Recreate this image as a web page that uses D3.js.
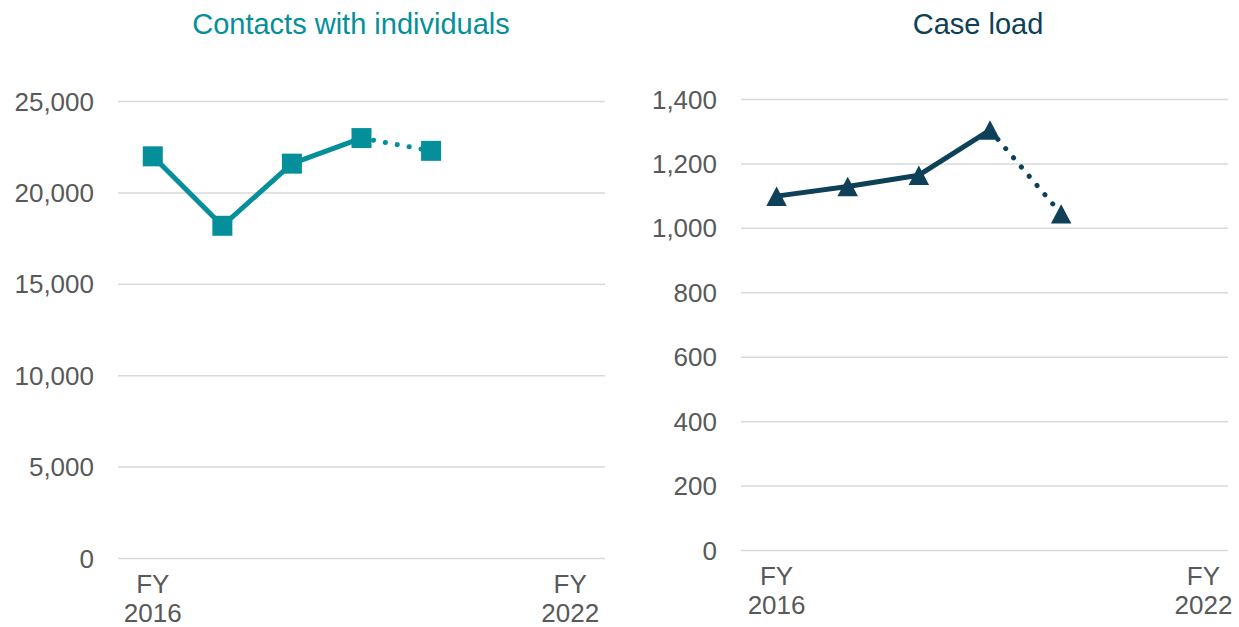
<!DOCTYPE html>
<html>
<head>
<meta charset="utf-8">
<script src="https://cdn.jsdelivr.net/npm/d3@7"></script>
<style>
  body { margin: 0; background: #fff; }
  text { font-family: "Liberation Sans", Arial, sans-serif; }
</style>
</head>
<body>
<svg id="chart" width="1239" height="627"></svg>
<script>
var years = ['2016', '2017', '2018', '2019', '2020', '2021', '2022'];
var shownYears = ['2016', '2022'];

var contacts = [22000, 18200, 21600, 23000, 22300];
var contactTicks = [0, 5000, 10000, 15000, 20000, 25000];

var caseLoad = [1100, 1130, 1165, 1305, 1045];
var caseTicks = [0, 200, 400, 600, 800, 1000, 1200, 1400];

var svg = d3.select('#chart');

// triangle centred on its bounding box (like the spreadsheet markers)
var boxTriangle = {
  draw: function (context, size) {
    var w = Math.sqrt(size), h = w * 0.95;
    context.moveTo(0, -h / 2);
    context.lineTo(w / 2, h / 2);
    context.lineTo(-w / 2, h / 2);
    context.closePath();
  }
};

function drawPanel(opts) {
  var g = svg.append('g');

  var xScale = d3.scaleBand()
    .domain(years)
    .range([opts.left, opts.right]);

  var yScale = d3.scaleLinear()
    .domain([0, opts.max])
    .range([opts.bottom, opts.top]);

  // gridlines
  g.selectAll('line.grid')
    .data(opts.ticks)
    .enter()
    .append('line')
    .attr('x1', opts.left)
    .attr('x2', opts.gridRight)
    .attr('y1', function (d) { return yScale(d); })
    .attr('y2', function (d) { return yScale(d); })
    .attr('stroke', '#d9d9d9')
    .attr('stroke-width', 1.5);

  // y tick labels
  g.selectAll('text.ylab')
    .data(opts.ticks)
    .enter()
    .append('text')
    .attr('x', opts.left - 24)
    .attr('y', function (d) { return yScale(d); })
    .attr('dy', '0.35em')
    .attr('text-anchor', 'end')
    .attr('font-size', '26px')
    .attr('fill', '#595959')
    .text(function (d) { return d3.format(',')(d); });

  // x labels (only first and last year shown)
  var xl = g.selectAll('text.xlab')
    .data(shownYears)
    .enter()
    .append('text')
    .attr('text-anchor', 'middle')
    .attr('font-size', '26px')
    .attr('fill', '#595959');
  xl.append('tspan')
    .attr('x', function (d) { return xScale(d) + xScale.bandwidth() / 2; })
    .attr('y', opts.bottom + 34)
    .text('FY');
  xl.append('tspan')
    .attr('x', function (d) { return xScale(d) + xScale.bandwidth() / 2; })
    .attr('y', opts.bottom + 63)
    .text(function (d) { return d; });

  // title
  g.append('text')
    .attr('x', opts.titleX)
    .attr('y', 33.5)
    .attr('text-anchor', 'middle')
    .attr('font-size', '29px')
    .attr('fill', opts.color)
    .text(opts.title);

  var pts = opts.values.map(function (v, i) {
    return [xScale(years[i]) + xScale.bandwidth() / 2, yScale(v)];
  });
  var line = d3.line();

  // solid part: first four years
  g.append('path')
    .attr('d', line(pts.slice(0, 4)))
    .attr('fill', 'none')
    .attr('stroke', opts.color)
    .attr('stroke-width', 5)
    .attr('stroke-linejoin', 'round');

  // dotted part: latest (partial) year
  g.append('path')
    .attr('d', line(pts.slice(3, 5)))
    .attr('fill', 'none')
    .attr('stroke', opts.color)
    .attr('stroke-width', 5)
    .attr('stroke-linecap', 'round')
    .attr('stroke-dasharray', '0.1 12');

  g.selectAll('path.marker')
    .data(pts)
    .enter()
    .append('path')
    .attr('transform', function (d) { return 'translate(' + d[0] + ',' + d[1] + ')'; })
    .attr('d', d3.symbol().type(opts.symbol).size(opts.symbolSize))
    .attr('fill', opts.color);
}

drawPanel({
  title: 'Contacts with individuals',
  titleX: 351,
  color: '#058f9a',
  values: contacts,
  ticks: contactTicks,
  max: 25000,
  left: 118,
  right: 605,
  gridRight: 605,
  top: 101.5,
  bottom: 558.5,
  symbol: d3.symbolSquare,
  symbolSize: 400
});

drawPanel({
  title: 'Case load',
  titleX: 978,
  color: '#0e4157',
  values: caseLoad,
  ticks: caseTicks,
  max: 1400,
  left: 741,
  right: 1239,
  gridRight: 1228,
  top: 99.5,
  bottom: 550.5,
  symbol: boxTriangle,
  symbolSize: 420
});
</script>
</body>
</html>
